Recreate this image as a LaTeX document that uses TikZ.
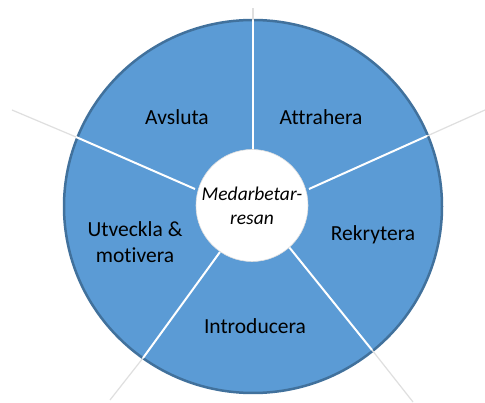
\documentclass[tikz,border=0pt]{standalone}
\usepackage{fontspec}
\setmainfont[Ligatures=CommonOff]{Carlito}
\definecolor{fillblue}{HTML}{5B9BD5}
\definecolor{edgeblue}{HTML}{41719C}
\begin{document}
\begin{tikzpicture}[x=1pt,y=-1pt,
  spoke/.style={white, line width=2pt},
  faint/.style={gray!25, line width=1.2pt},
  lbl/.style={font=\fontsize{21.5}{26}\selectfont, align=center, inner sep=0pt},
  hubstyle/.style={circle, fill=white, draw=gray!25, line width=0.6pt, minimum size=112pt, inner sep=0pt, align=center, font=\itshape\fontsize{19.5}{24}\selectfont}]
\useasboundingbox (0,0) rectangle (485,403);
\fill[white] (0,0) rectangle (485,403);
\coordinate (c) at (253,206.5);
\draw[edgeblue, fill=fillblue, line width=2.5pt] (c) ellipse [x radius=189, y radius=186.5];
% spoke coordinates
\coordinate (i1) at (253,151); \coordinate (o1) at (253,20); \coordinate (e1) at (253,8);
\coordinate (i2) at (309,189); \coordinate (o2) at (427,136); \coordinate (e2) at (485,110);
\coordinate (i3) at (289,247); \coordinate (o3) at (372,350); \coordinate (e3) at (413,402);
\coordinate (i4) at (220,252); \coordinate (o4) at (143,358); \coordinate (e4) at (110,400);
\coordinate (i5) at (195,189); \coordinate (o5) at (76,137); \coordinate (e5) at (12,110);
\foreach \k in {1,...,5}{
  \draw[faint] (o\k) -- (e\k);
  \draw[spoke] (i\k) -- (o\k);
}
\node[hubstyle] (hub) at (252,205.5) {Medarbetar-\\resan};
\node[lbl] (avsluta) at (177,117) {Avsluta};
\node[lbl] (attrahera) at (321,117) {Attrahera};
\node[lbl] (rekrytera) at (373,235) {Rekrytera};
\node[lbl] (introducera) at (255,326) {Introducera};
\node[lbl] (utveckla) at (135,242) {Utveckla \&\\motivera};
\end{tikzpicture}
\end{document}
